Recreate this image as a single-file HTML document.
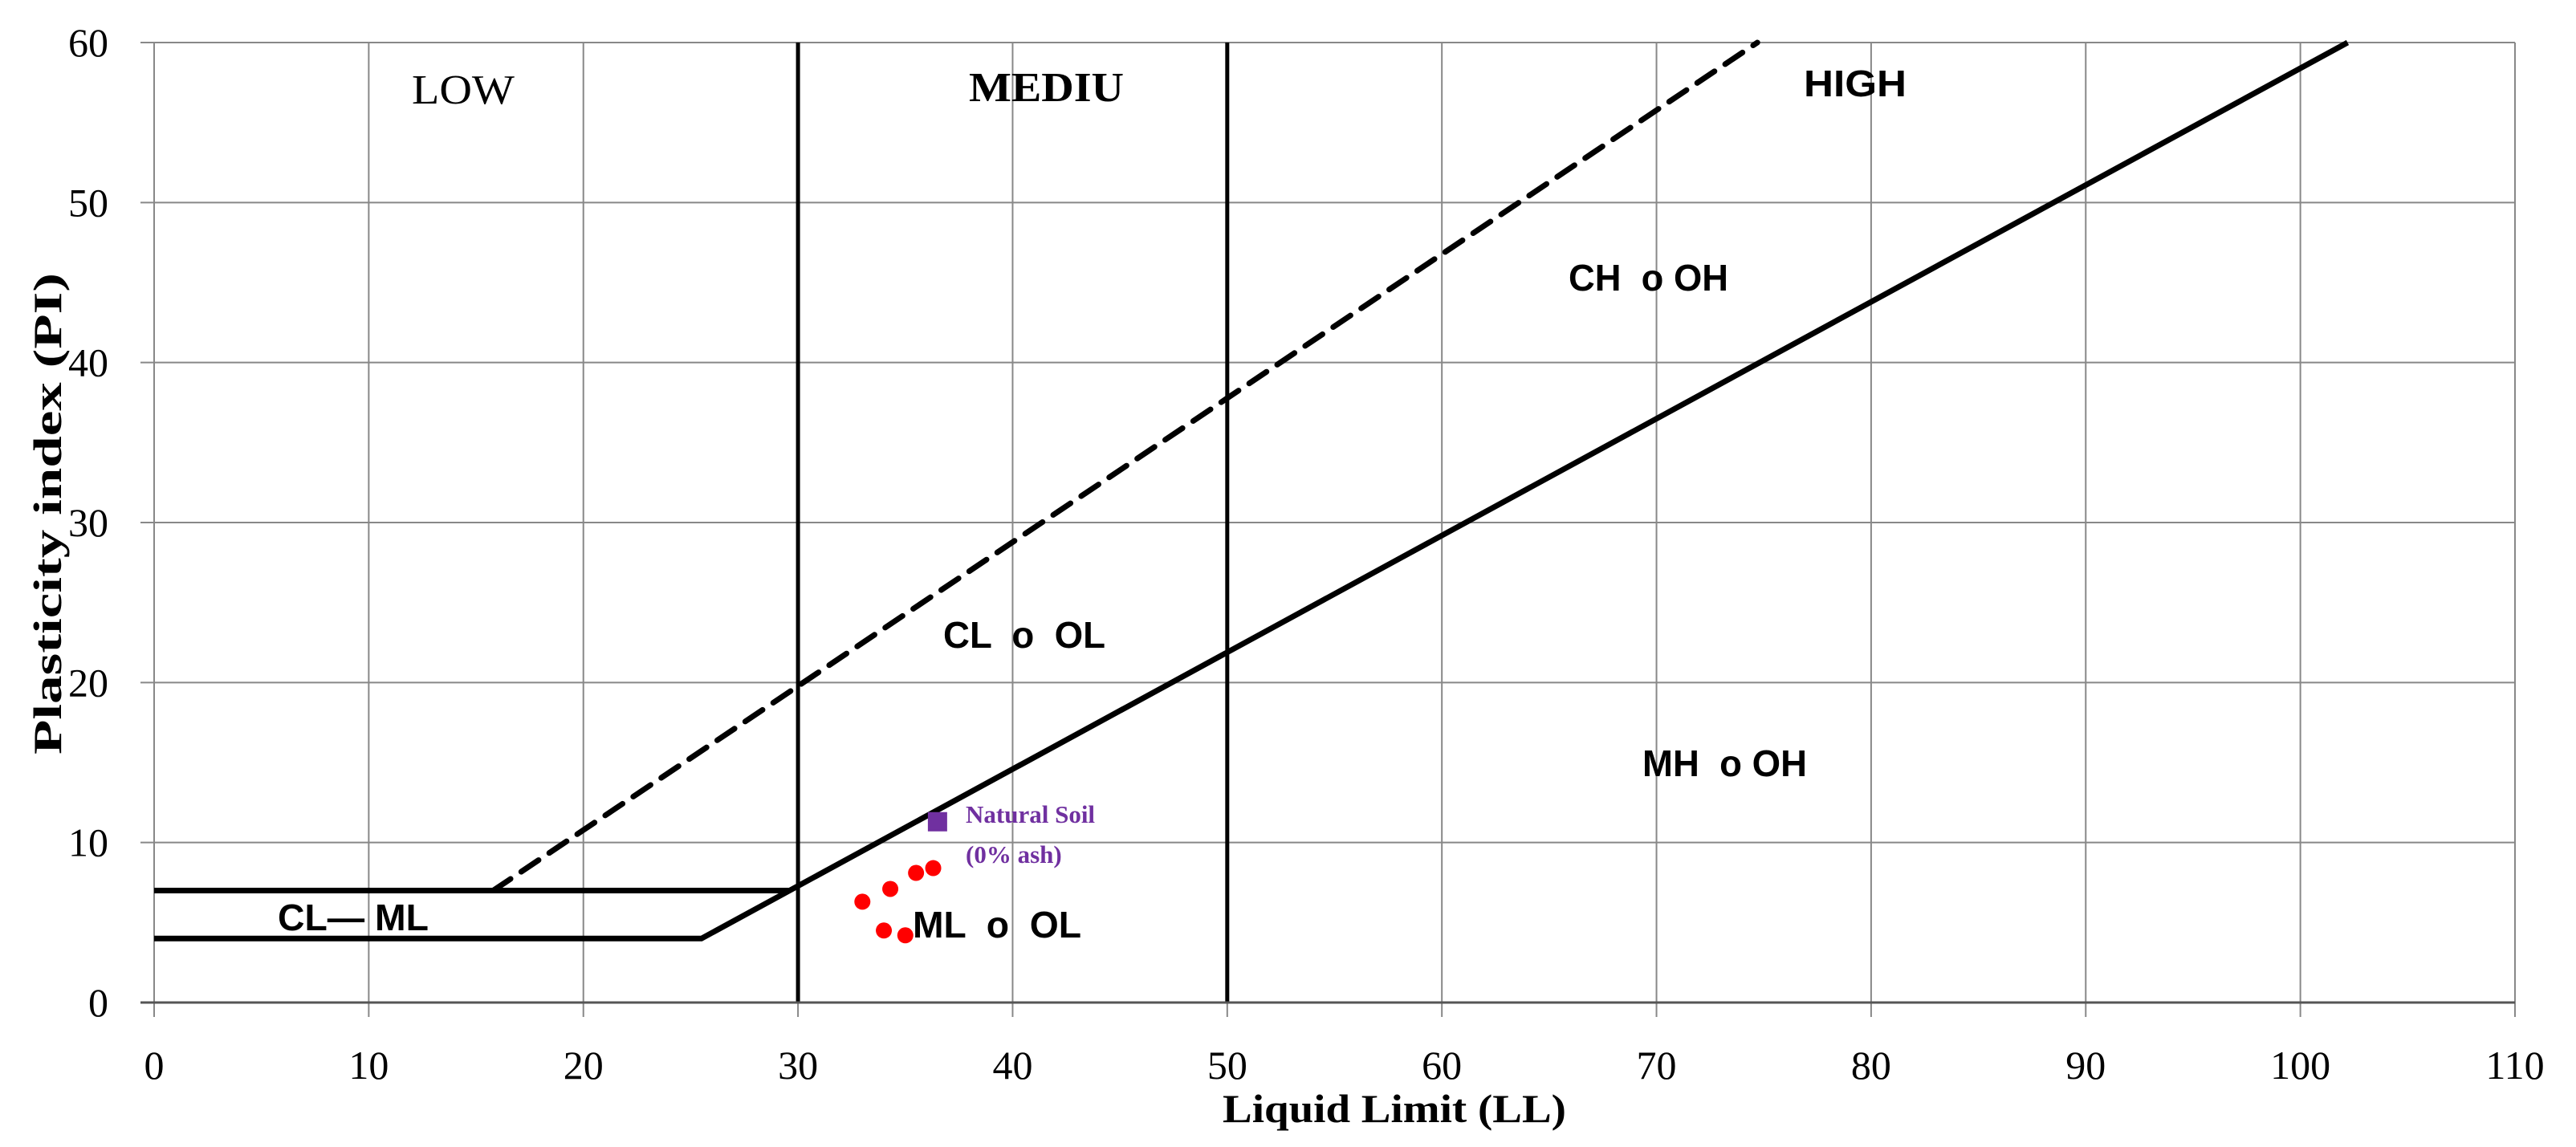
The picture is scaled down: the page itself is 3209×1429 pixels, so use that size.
<!DOCTYPE html>
<html><head><meta charset="utf-8"><style>
html,body{margin:0;padding:0;background:#fff;}
svg{display:block;white-space:pre;}
.tick{font-family:"Liberation Serif",serif;font-size:50px;fill:#000;}
.sans{font-family:"Liberation Sans",sans-serif;font-weight:bold;font-size:46px;fill:#000;white-space:pre;}
.serif{font-family:"Liberation Serif",serif;font-size:52px;fill:#000;}
</style></head><body>
<svg id="chart" width="3209" height="1429" viewBox="0 0 3209 1429" xmlns="http://www.w3.org/2000/svg" xml:space="preserve">
<g id="grid"></g>
<g id="lines"></g>
<g id="axes"></g>
<g id="points"></g>
<g>
<text class="serif" x="513" y="129" textLength="128" lengthAdjust="spacingAndGlyphs">LOW</text>
<text class="serif" x="1207" y="126" font-weight="bold" textLength="193" lengthAdjust="spacingAndGlyphs">MEDIU</text>
<text class="sans" x="2247" y="120" font-size="53" textLength="128" lengthAdjust="spacingAndGlyphs">HIGH</text>
<text class="sans" x="1954" y="362" textLength="199" lengthAdjust="spacingAndGlyphs">CH  o OH</text>
<text class="sans" x="1175" y="807" textLength="202" lengthAdjust="spacingAndGlyphs">CL  o  OL</text>
<text class="sans" x="2046" y="967" textLength="205" lengthAdjust="spacingAndGlyphs">MH  o OH</text>
<text class="sans" x="346" y="1159" textLength="188" lengthAdjust="spacingAndGlyphs">CL— ML</text>
<text class="sans" x="1137" y="1168" textLength="210" lengthAdjust="spacingAndGlyphs">ML  o  OL</text>
<text x="1203" y="1025" font-family="Liberation Serif, serif" font-weight="bold" font-size="31" fill="#7030A0">Natural Soil</text>
<text x="1203" y="1075" font-family="Liberation Serif, serif" font-weight="bold" font-size="31" fill="#7030A0">(0% ash)</text>
</g>
<text x="1737" y="1398" text-anchor="middle" font-family="Liberation Serif, serif" font-weight="bold" font-size="50" textLength="428" lengthAdjust="spacingAndGlyphs">Liquid Limit (LL)</text>
<text transform="translate(76,640) rotate(-90)" text-anchor="middle" font-family="Liberation Serif, serif" font-weight="bold" font-size="50" textLength="600" lengthAdjust="spacingAndGlyphs">Plasticity index (PI)</text>
</svg>
<script>
const xTicks=[0,10,20,30,40,50,60,70,80,90,100,110];
const yTicks=[0,10,20,30,40,50,60];
const boundaryX=[30,50];
const uLineLL=[15.8,74.7];
const uLinePI=[7,60];
const aLineLL=[0,25.5,102.2];
const aLinePI=[4,4,60];
const clmlTopLL=[0,29.6];
const clmlTopPI=[7,7];
const samplesLL=[33.0,34.3,35.5,36.3,34.0,35.0];
const samplesPI=[6.3,7.1,8.1,8.4,4.5,4.2];
const naturalLL=[36.5];
const naturalPI=[11.3];

const X0=192,XW=2941,Y0=1249,YH=1196;
function sx(v){return X0+v/110*XW;}
function sy(v){return Y0-v/60*YH;}
const NS='http://www.w3.org/2000/svg';
function mk(tag,parent,attrs){const e=document.createElementNS(NS,tag);for(const k in attrs)e.setAttribute(k,attrs[k]);parent.appendChild(e);return e;}
const grid=document.getElementById('grid'),axes=document.getElementById('axes'),lines=document.getElementById('lines'),pts=document.getElementById('points');
xTicks.forEach(t=>{
  const g=mk('line',grid,{x1:sx(t),x2:sx(t),y1:sy(60),y2:sy(0)+18,stroke:'#888','stroke-width':2});
  
  
  const l=mk('text',axes,{x:sx(t),y:sy(0)+95,'text-anchor':'middle',class:'tick'});
  l.textContent=t;
  
  
});
yTicks.forEach(t=>{
  const g=mk('line',grid,{x1:sx(0)-17,x2:sx(110),y1:sy(t),y2:sy(t),stroke:'#888','stroke-width':2});
  
  
  const l=mk('text',axes,{x:135,y:sy(t)+17,'text-anchor':'end',class:'tick'});
  l.textContent=t;
  
  
});
const xa=mk('line',axes,{x1:sx(0)-17,x2:sx(110),y1:sy(0),y2:sy(0),stroke:'#555','stroke-width':3});


boundaryX.forEach(b=>{
  const v=mk('line',lines,{x1:sx(b),x2:sx(b),y1:sy(60),y2:sy(0),stroke:'#000','stroke-width':5});
  
  
});
function poly(xs,ys,name,extra){
  const p=xs.map((x,i)=>sx(x)+','+sy(ys[i])).join(' ');
  const e=mk('polyline',lines,Object.assign({points:p,fill:'none',stroke:'#000','stroke-width':7,'stroke-linejoin':'miter'},extra||{}));
  
  
}
poly(clmlTopLL,clmlTopPI,'cl-ml-upper-line');
poly(aLineLL,aLinePI,'a-line');
poly(uLineLL,uLinePI,'u-line',{'stroke-dasharray':'26 16','stroke-linecap':'round'});
samplesLL.forEach((v,i)=>{
  const c=mk('circle',pts,{cx:sx(v),cy:sy(samplesPI[i]),r:10,fill:'#ff0000'});
  
  
});
naturalLL.forEach((v,i)=>{
  const r=mk('rect',pts,{x:sx(v)-12,y:sy(naturalPI[i])-12,width:24,height:24,fill:'#7030A0'});
  
  
});
</script>
</body></html>
